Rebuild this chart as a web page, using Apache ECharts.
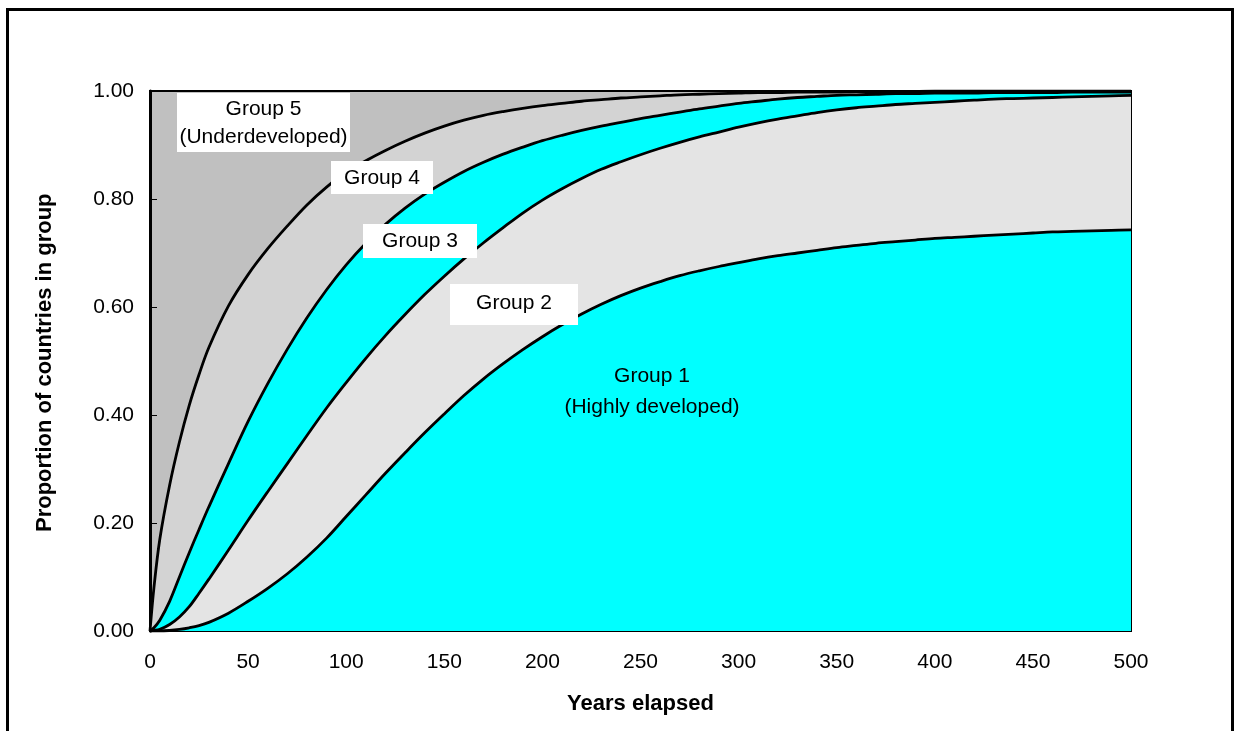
<!DOCTYPE html>
<html>
<head>
<meta charset="utf-8">
<script src="https://cdn.jsdelivr.net/npm/echarts@6/dist/echarts.min.js"></script>
<style>html,body{margin:0;padding:0;background:#fff;}#c{width:1235px;height:731px;}</style>
</head>
<body>
<div id="c"></div>
<script>
// Years elapsed (x values)
var years = [0,2,5,10,15,20,25,30,40,50,60,70,80,90,100,110,120,130,140,150,160,170,180,190,200,210,220,230,240,250,260,270,280,290,300,310,320,330,340,350,360,370,380,390,400,410,420,430,440,450,460,470,480,490,500];
// Cumulative proportion: Group 1
var cumG1 = [0,0,0,0.001,0.003,0.006,0.01,0.016,0.033,0.055,0.079,0.106,0.137,0.172,0.212,0.252,0.292,0.33,0.367,0.402,0.436,0.467,0.495,0.521,0.545,0.567,0.587,0.605,0.621,0.635,0.647,0.658,0.667,0.675,0.682,0.689,0.695,0.70,0.705,0.71,0.714,0.718,0.721,0.724,0.727,0.729,0.731,0.733,0.735,0.737,0.739,0.740,0.741,0.742,0.743];
// Cumulative proportion: Groups 1-2
var cumG2 = [0,0.001,0.003,0.012,0.026,0.045,0.07,0.096,0.15,0.205,0.258,0.31,0.362,0.413,0.46,0.505,0.547,0.586,0.623,0.657,0.689,0.719,0.747,0.774,0.798,0.819,0.838,0.855,0.869,0.882,0.894,0.905,0.915,0.924,0.933,0.941,0.948,0.954,0.96,0.965,0.969,0.972,0.975,0.977,0.979,0.981,0.983,0.985,0.986,0.987,0.988,0.989,0.990,0.991,0.992];
// Cumulative proportion: Groups 1-3
var cumG3 = [0,0.006,0.02,0.055,0.1,0.145,0.188,0.23,0.31,0.388,0.458,0.522,0.58,0.632,0.678,0.718,0.753,0.783,0.809,0.831,0.851,0.868,0.883,0.896,0.908,0.918,0.927,0.935,0.942,0.949,0.955,0.961,0.967,0.972,0.977,0.981,0.985,0.988,0.99,0.992,0.993,0.994,0.995,0.995,0.996,0.996,0.996,0.997,0.997,0.997,0.997,0.998,0.998,0.998,0.998];
// Cumulative proportion: Groups 1-4
var cumG4 = [0,0.08,0.17,0.27,0.35,0.418,0.475,0.525,0.602,0.66,0.708,0.75,0.789,0.822,0.85,0.871,0.89,0.907,0.922,0.935,0.946,0.955,0.962,0.968,0.973,0.977,0.981,0.984,0.987,0.989,0.991,0.993,0.994,0.995,0.996,0.997,0.997,0.998,0.998,0.998,0.999,0.999,0.999,0.999,1,1,1,1,1,1,1,1,1,1,1];

var xTicks = [0,50,100,150,200,250,300,350,400,450,500];
var yTicks = [0,0.2,0.4,0.6,0.8,1.0];
var groupLabels = ['Group 1\n(Highly developed)','Group 2','Group 3','Group 4','Group 5\n(Underdeveloped)'];

var FONT = 'Arial, "Liberation Sans", sans-serif';
var colG5 = '#c0c0c0', colG4 = '#d3d3d3', colCyan = '#00ffff', colG2 = '#e4e4e4';

function pairs(arr){ return years.map(function(y,i){ return [y, arr[i]]; }); }

function areaSeries(name, arr, color){
  return {
    name: name, type: 'line', data: pairs(arr), showSymbol: false, smooth: 0.35,
    lineStyle: {color: '#000', width: 2.8},
    areaStyle: {color: color, opacity: 1, origin: 'start'},
    emphasis: {disabled: true}, silent: true
  };
}

var chart = echarts.init(document.getElementById('c'), null, {renderer: 'canvas'});
chart.setOption({
  animation: false,
  backgroundColor: '#fff',
  grid: {left: 150, right: 104, top: 91, bottom: 100, show: true, backgroundColor: colG5, borderColor: '#000', borderWidth: 2, containLabel: false},
  xAxis: {
    type: 'value', min: 0, max: 500, interval: 50,
    axisLine: {show: true, onZero: false, lineStyle: {color: '#000', width: 2}},
    axisTick: {show: true, inside: true, length: 7, lineStyle: {color: '#000', width: 1}},
    splitLine: {show: false},
    axisLabel: {color: '#000', fontFamily: FONT, fontSize: 21, margin: 21, formatter: function(v){ return xTicks.indexOf(v) >= 0 ? String(v) : ''; }},
    name: 'Years elapsed', nameLocation: 'middle', nameGap: 62,
    nameTextStyle: {color: '#000', fontFamily: FONT, fontSize: 22, fontWeight: 'bold'}
  },
  yAxis: {
    type: 'value', min: 0, max: 1, interval: 0.2,
    axisLine: {show: true, lineStyle: {color: '#000', width: 3}},
    axisTick: {show: true, inside: true, length: 7, lineStyle: {color: '#000', width: 1}},
    splitLine: {show: false},
    axisLabel: {color: '#000', fontFamily: FONT, fontSize: 21, margin: 16, formatter: function(v){ return v.toFixed(2); }}
  },
  series: [
    areaSeries('Groups 1-4', cumG4, colG4),
    areaSeries('Groups 1-3', cumG3, colCyan),
    areaSeries('Groups 1-2', cumG2, colG2),
    areaSeries('Group 1', cumG1, colCyan)
  ],
  graphic: [
    {type: 'rect', shape: {x: 7.5, y: 9.5, width: 1225, height: 760}, style: {fill: 'none', stroke: '#000', lineWidth: 3}, z: 100, silent: true},
    {type: 'text', x: 45, y: 532, rotation: Math.PI/2, style: {text: 'Proportion of countries in group', fontFamily: FONT, fontSize: 22, fontWeight: 'bold', fill: '#000', align: 'left', verticalAlign: 'middle'}, z: 100},
    {type: 'rect', shape: {x: 177, y: 93, width: 173, height: 59}, style: {fill: '#fff'}, z: 50},
    {type: 'text', x: 263.5, y: 123, style: {text: groupLabels[4], fontFamily: FONT, fontSize: 21, lineHeight: 28, fill: '#000', align: 'center', verticalAlign: 'middle'}, z: 51},
    {type: 'rect', shape: {x: 331, y: 161, width: 102, height: 33}, style: {fill: '#fff'}, z: 50},
    {type: 'text', x: 382, y: 178, style: {text: groupLabels[3], fontFamily: FONT, fontSize: 21, fill: '#000', align: 'center', verticalAlign: 'middle'}, z: 51},
    {type: 'rect', shape: {x: 363, y: 224, width: 114, height: 34}, style: {fill: '#fff'}, z: 50},
    {type: 'text', x: 420, y: 241, style: {text: groupLabels[2], fontFamily: FONT, fontSize: 21, fill: '#000', align: 'center', verticalAlign: 'middle'}, z: 51},
    {type: 'rect', shape: {x: 450, y: 284, width: 128, height: 41}, style: {fill: '#fff'}, z: 50},
    {type: 'text', x: 514, y: 303, style: {text: groupLabels[1], fontFamily: FONT, fontSize: 21, fill: '#000', align: 'center', verticalAlign: 'middle'}, z: 51},
    {type: 'text', x: 652, y: 392, style: {text: groupLabels[0], fontFamily: FONT, fontSize: 21, lineHeight: 31, fill: '#000', align: 'center', verticalAlign: 'middle'}, z: 51}
  ]
});
</script>
</body>
</html>
